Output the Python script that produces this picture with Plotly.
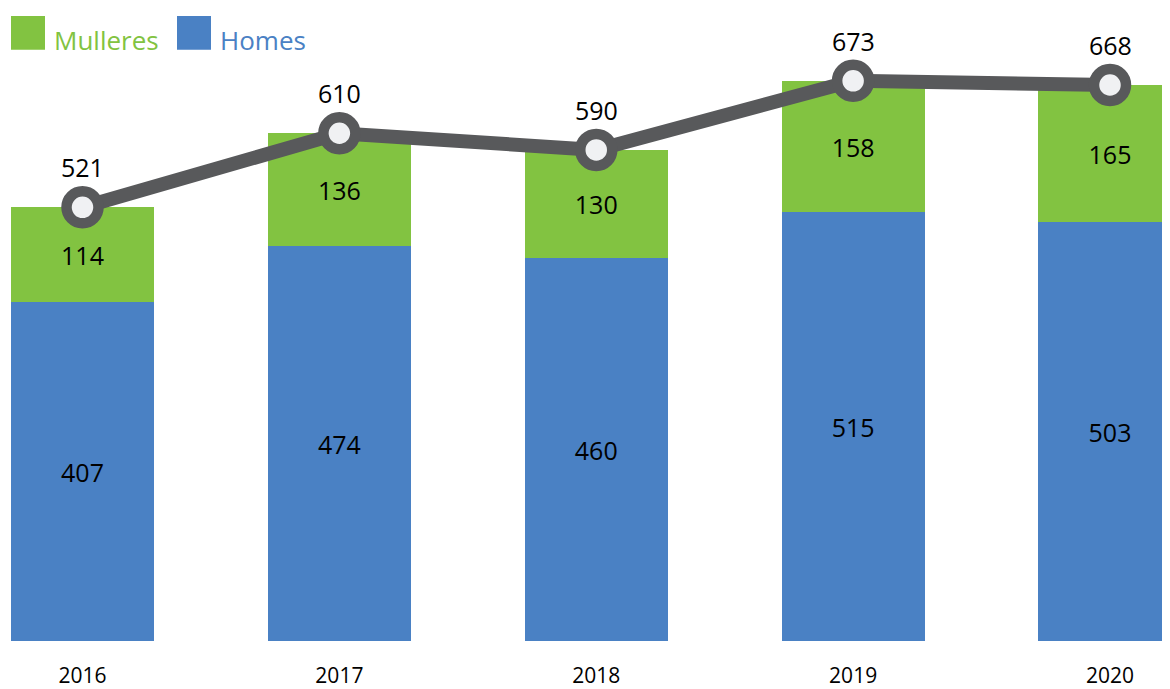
import plotly.graph_objects as go

years = ["2016", "2017", "2018", "2019", "2020"]
homes = [407, 474, 460, 515, 503]
mulleres = [114, 136, 130, 158, 165]
totals = [521, 610, 590, 673, 668]

GREEN = "#82C341"
BLUE = "#4A81C4"
GRAY = "#58595B"
FONT = "Open Sans"

# page has an 8px body margin; size the figure so that it ends at the window edge
OFF = 8
W, H = 1170 - OFF, 689 - OFF
PLOT_H = 643 - OFF
SCALE = 0.835  # px per unit

fig = go.Figure()
fig.add_trace(go.Bar(
    x=years, y=homes, name="Homes", marker=dict(color=BLUE, line=dict(width=0)),
    width=0.557, text=[str(v) for v in homes], textposition="inside",
    insidetextanchor="middle", textfont=dict(size=25, color="black", family=FONT),
    showlegend=False,
))
fig.add_trace(go.Bar(
    x=years, y=mulleres, name="Mulleres", marker=dict(color=GREEN, line=dict(width=0)),
    width=0.557, text=[str(v) for v in mulleres], textposition="inside",
    insidetextanchor="middle", textfont=dict(size=25, color="black", family=FONT),
    showlegend=False,
))
fig.add_trace(go.Scatter(
    x=years, y=totals, mode="lines+markers",
    line=dict(color=GRAY, width=14),
    marker=dict(size=32, color="#F0F1F3", line=dict(color=GRAY, width=10.5)),
    showlegend=False, cliponaxis=False,
))

for i, t in enumerate(totals):
    fig.add_annotation(x=i, y=t, xref="x", yref="y", text=str(t), showarrow=False,
                       yshift=40, font=dict(size=25, color="black", family=FONT))

# legend (drawn manually to match large swatches)
def px(xp):
    return (xp - OFF) / W
def py(yp):
    return 1 - (yp - OFF) / PLOT_H

legend_items = [("Mulleres", GREEN, 11), ("Homes", BLUE, 177)]
for label, col, x0 in legend_items:
    fig.add_shape(type="rect", xref="paper", yref="paper",
                  x0=px(x0), x1=px(x0 + 34), y0=py(50), y1=py(16),
                  fillcolor=col, line=dict(width=0))
    fig.add_annotation(xref="paper", yref="paper", x=px(x0 + 41), y=py(40),
                       text=label, showarrow=False, xanchor="left", yanchor="middle",
                       font=dict(size=26, color=col, family=FONT))

spacing = (1110 - 82.5) / 4
x_lo = -(82.5 - OFF) / spacing
x_hi = x_lo + W / spacing

fig.update_layout(
    barmode="stack",
    width=W, height=H,
    margin=dict(l=0, r=0, t=0, b=H - PLOT_H),
    paper_bgcolor="white", plot_bgcolor="white",
    font=dict(family=FONT, color="black"),
    xaxis=dict(type="category", range=[x_lo, x_hi], showgrid=False, zeroline=False,
               showline=False, ticks="", tickfont=dict(size=21, color="black", family=FONT),
               ticklabelstandoff=20),
    yaxis=dict(range=[0, PLOT_H / SCALE], visible=False, showgrid=False, zeroline=False),
    uniformtext=dict(mode=False),
)

fig.write_html("out.html")
